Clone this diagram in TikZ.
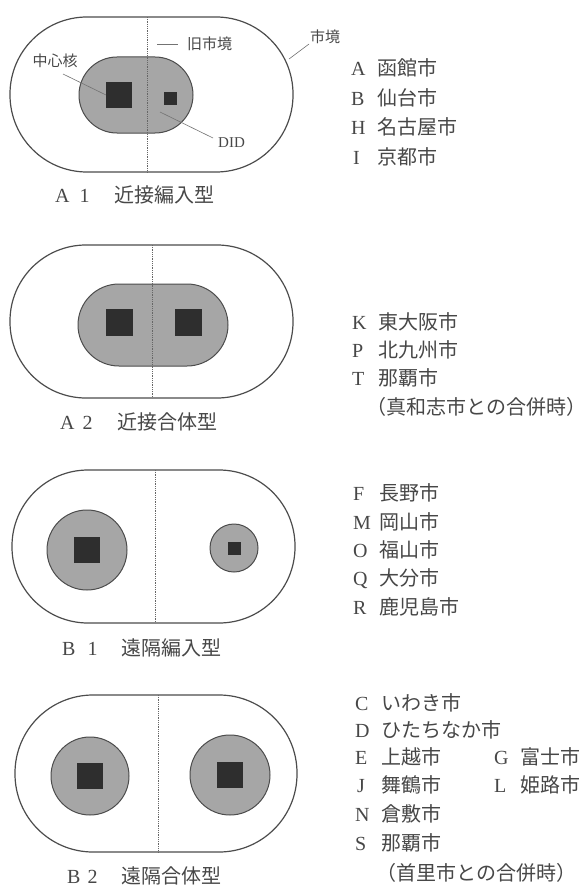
\documentclass[tikz,border=0pt]{standalone}
\usepackage{fontspec}
\setmainfont{Liberation Serif}
\newfontfamily\cjk{Noto Sans CJK JP}
\newcommand{\ltr}[1]{\makebox[26pt][l]{#1}}
\begin{document}
\begin{tikzpicture}[x=1pt,y=-1pt,
  outer/.style={draw=black!70, line width=1.2pt, fill=white},
  didarea/.style={draw=black!70, line width=1pt, fill=black!35},
  core/.style={fill=black!82},
  divider/.style={draw=black!60, densely dotted, line width=0.8pt},
  leader/.style={draw=black!55, line width=0.6pt},
  lbl/.style={inner sep=0pt, text=black!72, font=\fontsize{15}{15}\selectfont\cjk},
  captext/.style={inner sep=0pt, anchor=west, text=black!72, font=\fontsize{20}{20}\selectfont},
  item/.style={inner sep=0pt, anchor=west, text=black!72, font=\fontsize{20}{20}\selectfont},
]
\useasboundingbox (0,0) rectangle (587,888);

% ---------------- A1 ----------------
\draw[outer, rounded corners=77pt] (10,17) rectangle (293,172);
\draw[didarea, rounded corners=38pt] (79,57) rectangle (193,133);
\fill[core] (106,82) rectangle (132,108);
\fill[core] (164,92) rectangle (177,105);
\draw[divider] (147,17) -- (147,172);
\node[lbl] (chushin) at (55,61) {中心核};
\coordinate (chushinStart) at (63,74);
\coordinate (chushinEnd) at (106,95);
\draw[leader] (chushinStart) -- (chushinEnd);
\node[lbl, anchor=west] (kyushi) at (187,44) {旧市境};
\coordinate (kyushiStart) at (157,44);
\coordinate (kyushiEnd) at (178,44);
\draw[leader] (kyushiStart) -- (kyushiEnd);
\node[lbl, anchor=west, font=\fontsize{15}{15}\selectfont] (did) at (218,143) {DID};
\coordinate (didStart) at (160,112);
\coordinate (didEnd) at (213,138);
\draw[leader] (didStart) -- (didEnd);
\node[lbl, anchor=west] (shikyo) at (310,37) {市境};
\coordinate (shikyoStart) at (289,59);
\coordinate (shikyoEnd) at (309,44);
\draw[leader] (shikyoStart) -- (shikyoEnd);
\node[captext] (capA1) at (55,195) {A\hspace{10pt}1\hspace{25pt}{\cjk 近接編入型}};

\node[item] (a1a) at (351,68) {\ltr{A}{\cjk 函館市}};
\node[item] (a1b) at (351,98) {\ltr{B}{\cjk 仙台市}};
\node[item] (a1h) at (351,127) {\ltr{H}{\cjk 名古屋市}};
\node[item] (a1i) at (351,157) {\ltr{\hspace{2pt}I}{\cjk 京都市}};

% ---------------- A2 ----------------
\draw[outer, rounded corners=76pt] (10,245) rectangle (293,398);
\draw[didarea, rounded corners=41pt] (78,284) rectangle (228,366);
\fill[core] (106,309) rectangle (133,336);
\fill[core] (175,309) rectangle (202,336);
\draw[divider] (152,245) -- (152,398);
\node[captext] (capA2) at (60,422) {A\hspace{8pt}2\hspace{25pt}{\cjk 近接合体型}};

\node[item] (a2k) at (352,322) {\ltr{K}{\cjk 東大阪市}};
\node[item] (a2p) at (352,350) {\ltr{P}{\cjk 北九州市}};
\node[item] (a2t) at (352,378) {\ltr{T}{\cjk 那覇市}};
\node[item] (a2n) at (366,407) {\cjk （真和志市との合併時）};

% ---------------- B1 ----------------
\draw[outer, rounded corners=76pt] (12,470) rectangle (295,623);
\draw[didarea] (87,550) circle[radius=40];
\fill[core] (74,537) rectangle (100,563);
\draw[didarea] (234,548) circle[radius=24];
\fill[core] (228,542) rectangle (241,555);
\draw[divider] (155,470) -- (155,623);
\node[captext] (capB1) at (62,648) {B\hspace{12pt}1\hspace{24pt}{\cjk 遠隔編入型}};

\node[item] (b1f) at (353,493) {\ltr{F}{\cjk 長野市}};
\node[item] (b1m) at (353,522) {\ltr{M}{\cjk 岡山市}};
\node[item] (b1o) at (353,550) {\ltr{O}{\cjk 福山市}};
\node[item] (b1q) at (353,579) {\ltr{Q}{\cjk 大分市}};
\node[item] (b1r) at (353,607) {\ltr{R}{\cjk 鹿児島市}};

% ---------------- B2 ----------------
\draw[outer, rounded corners=78pt] (15,695) rectangle (297,852);
\draw[didarea] (90,776) circle[radius=39];
\fill[core] (77,763) rectangle (103,789);
\draw[didarea] (230,775) circle[radius=40];
\fill[core] (217,762) rectangle (243,788);
\draw[divider] (158,695) -- (158,852);
\node[captext] (capB2) at (67,876) {B\hspace{7pt}2\hspace{24pt}{\cjk 遠隔合体型}};

\node[item] (b2c) at (355,703) {\ltr{C}{\cjk いわき市}};
\node[item] (b2d) at (355,730) {\ltr{D}{\cjk ひたちなか市}};
\node[item] (b2e) at (355,757) {\ltr{E}{\cjk 上越市}};
\node[item] (b2g) at (494,757) {\ltr{G}{\cjk 富士市}};
\node[item] (b2j) at (355,785) {\ltr{\hspace{2pt}J}{\cjk 舞鶴市}};
\node[item] (b2l) at (494,785) {\ltr{L}{\cjk 姫路市}};
\node[item] (b2n) at (355,814) {\ltr{N}{\cjk 倉敷市}};
\node[item] (b2s) at (355,843) {\ltr{S}{\cjk 那覇市}};
\node[item] (b2x) at (376,873) {\cjk （首里市との合併時）};
\end{tikzpicture}
\end{document}
